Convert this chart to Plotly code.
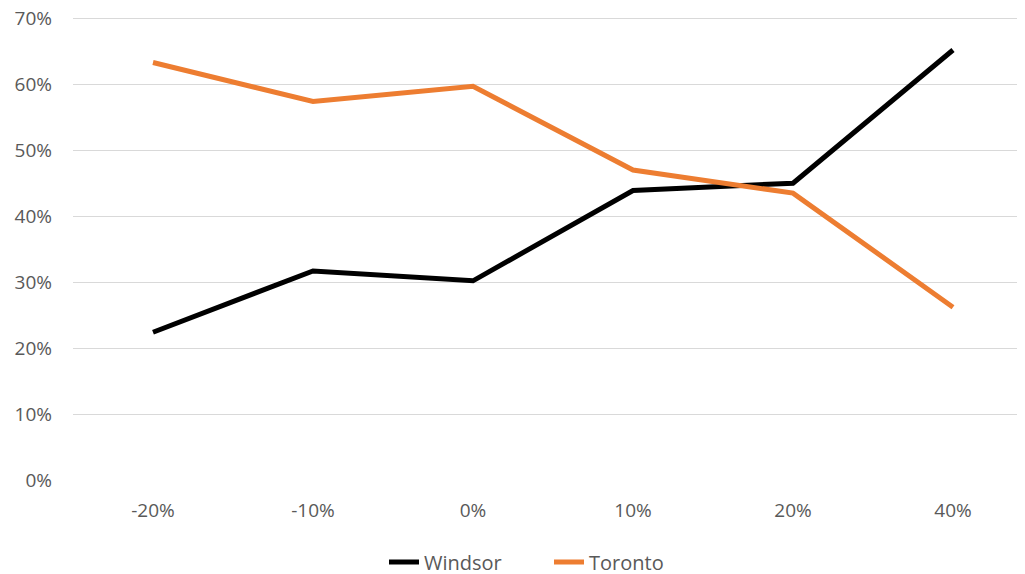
import plotly.graph_objects as go

categories = ['-20%', '-10%', '0%', '10%', '20%', '40%']
windsor = [0.224, 0.317, 0.302, 0.439, 0.450, 0.652]
toronto = [0.633, 0.574, 0.597, 0.470, 0.435, 0.262]
y_ticks = [0, 0.1, 0.2, 0.3, 0.4, 0.5, 0.6, 0.7]
y_labels = ['0%', '10%', '20%', '30%', '40%', '50%', '60%', '70%']

figure = go.Figure()
figure.add_trace(go.Scatter(
    x=categories, y=windsor, mode='lines', name='Windsor',
    line=dict(color='black', width=5)))
figure.add_trace(go.Scatter(
    x=categories, y=toronto, mode='lines', name='Toronto',
    line=dict(color='#ED7D31', width=5)))

# page body adds an 8px offset, so the figure is shrunk to stay inside the window
figure.update_layout(
    width=1017, height=566,
    margin=dict(l=65, r=0, t=9, b=94, autoexpand=False),
    plot_bgcolor='white', paper_bgcolor='white',
    font=dict(family='Open Sans, Liberation Sans', size=19, color='#595959'),
    legend=dict(orientation='h', x=0.5, xanchor='center', y=-0.135, yanchor='top',
                entrywidth=120,
                font=dict(family='Open Sans, Liberation Sans', size=20, color='#595959')),
    showlegend=True)
figure.update_xaxes(range=[-0.5, 5.45], showgrid=False, zeroline=False,
                    showline=False, ticks='', ticklabelstandoff=17,
                    automargin=False, tickfont=dict(size=19))
figure.update_yaxes(range=[0, 0.702], tickvals=y_ticks, ticktext=y_labels,
                    showgrid=True, gridcolor='#D9D9D9', gridwidth=1,
                    zeroline=False, showline=False, ticks='', ticklabelstandoff=20,
                    ticklabeloverflow='allow', automargin=False,
                    tickfont=dict(size=19))

figure.write_html("out.html")
